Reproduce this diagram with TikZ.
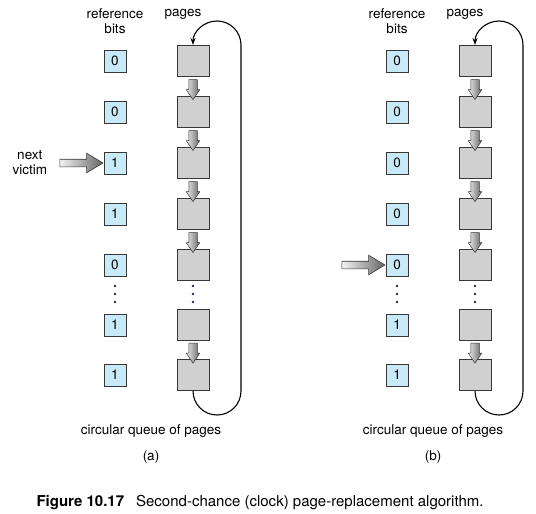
\documentclass[tikz,border=0pt]{standalone}
\usepackage{fontspec}
\setmainfont{TeX Gyre Heros}
\usetikzlibrary{arrows.meta, positioning, calc, shapes.arrows}
\definecolor{BitBlue}{RGB}{200,234,248}
\definecolor{PageGray}{RGB}{208,208,208}
\definecolor{EdgeGray}{RGB}{55,55,55}
\definecolor{DotBlue}{RGB}{30,40,80}
\tikzset{
  bitbox/.style={draw=EdgeGray, line width=1pt, fill=BitBlue, minimum width=22pt,
                 minimum height=22pt, inner sep=0pt},
  pagebox/.style={draw=EdgeGray, line width=1pt, fill=PageGray, minimum width=32pt,
                  minimum height=31pt, inner sep=0pt},
  downarrow/.style={single arrow, draw=EdgeGray, line width=0.5pt, inner xsep=0pt,
                    inner ysep=4pt, single arrow head extend=2.5pt, single arrow tip angle=68,
                    minimum height=20pt, left color=gray!15, right color=gray!80!black,
                    rotate=-90},
  pointer/.style={single arrow, draw=EdgeGray, line width=0.6pt, inner xsep=0pt,
                  inner ysep=3.5pt, single arrow head extend=6pt, single arrow tip angle=62,
                  minimum height=43pt, left color=gray!10, right color=gray!80!black},
  loopline/.style={line width=1.1pt, -{Stealth[length=7pt, width=5pt]}},
}
\newcommand{\clockpanel}[5]{% prefijo, desplazamiento x, filas y/bit, rotulo
  \begin{scope}[xshift=#2]
    \foreach \y/\b [count=\i] in {#3} {
      \node[bitbox] (#1bit\i) at (115,-\y) {\b};
      \node[pagebox] (#1page\i) at (193,-\y) {};
    }
    \foreach \i/\j in {1/2,2/3,3/4,4/5,6/7}
      \path (#1page\i.south) -- (#1page\j.north) node[midway, downarrow] {};
    % los puntos
    \foreach \x in {115,193}
      \foreach \y in {286,294,302}
        \fill[DotBlue] (\x,-\y) circle (1.4);
    \draw[loopline] (#1page7.south) arc[start angle=180, end angle=360, radius=24]
      -- ($(#1page1.north)+(48,0)$) arc[start angle=0, end angle=180, radius=24];
    \node[align=center] (#1refbits) at (115,-21.5) {reference\\bits};
    \node (#1pages) at (183,-14) {pages};
    \node (#1queue) at (151,-431) {circular queue of pages};
    \node (#1label) at (151,-457) {#4};
  \end{scope}
  \node[pointer, anchor=tip] (#1ptr) at (#1bit#5.west) {};
}

\begin{document}
\begin{tikzpicture}[x=1pt, y=1pt, font=\fontsize{13.5}{15}\selectfont]
\useasboundingbox (0,0) rectangle (536,-514);

\clockpanel{a}{0}{61/0,112/0,163/1,214/1,265/0,325/1,375/1}{(a)}{3}
\node[align=center, left=9pt of aptr] (avictim) {next\\victim};

\clockpanel{b}{282}{61/0,112/0,163/0,214/0,265/0,325/1,375/1}{(b)}{5}

\node[anchor=west, font=\fontsize{15}{17}\selectfont] (caption) at (33,-503)
  {\textbf{Figure 10.17}\hspace{12pt}Second-chance (clock) page-replacement algorithm.};

\end{tikzpicture}
\end{document}
